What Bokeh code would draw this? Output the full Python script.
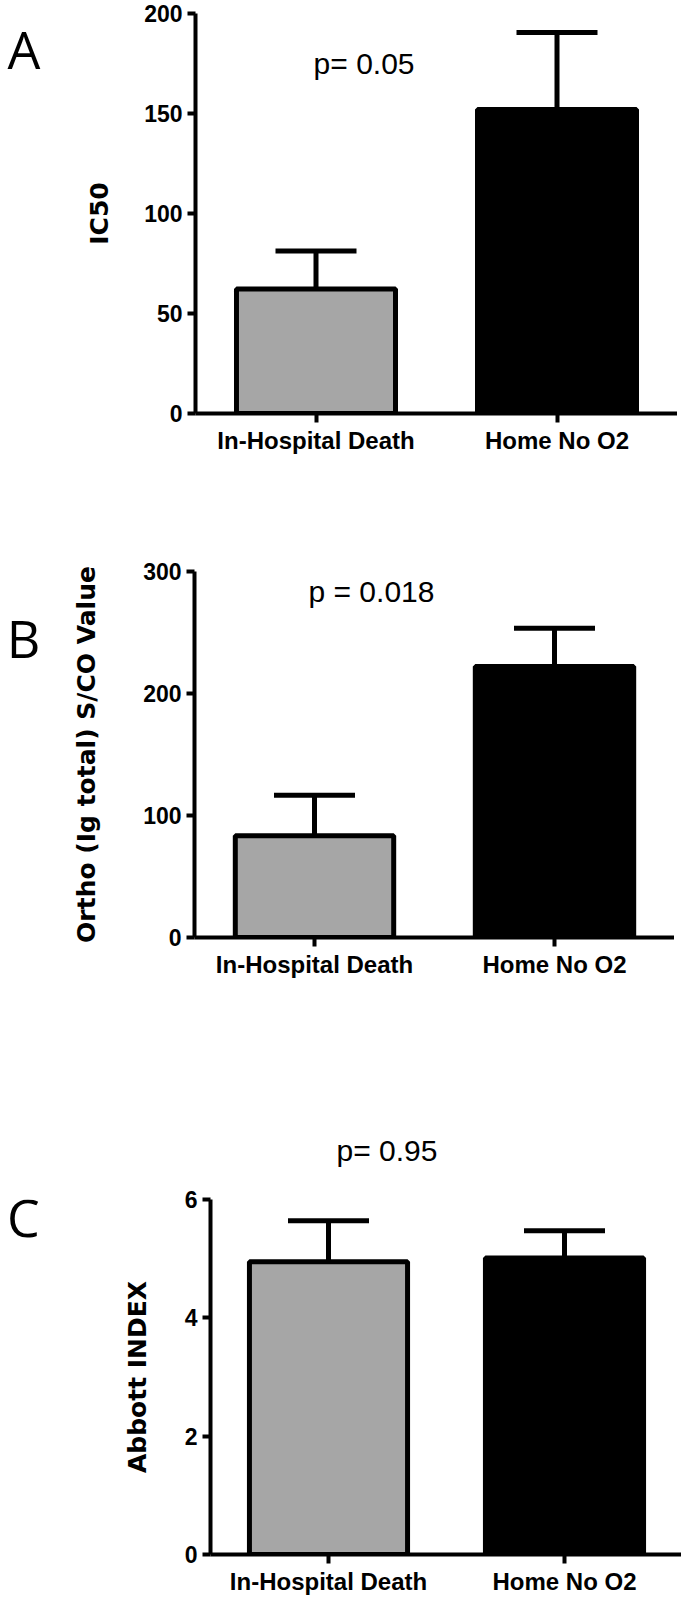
from bokeh.plotting import figure
from bokeh.models import Range1d, FactorRange, Whisker, TeeHead, ColumnDataSource, Label
from bokeh.layouts import column, row
from bokeh.embed import file_html
from bokeh.resources import INLINE

# ---- data ----
groups = ["In-Hospital Death", "Home No O2"]
bar_colors = ["#a6a6a6", "#000000"]

ic50_mean = [62.3, 152.0]
ic50_sem = [18.9, 38.5]
ic50_ticks = [0, 50, 100, 150, 200]

ortho_mean = [83.5, 222.2]
ortho_sem = [33.2, 31.3]
ortho_ticks = [0, 100, 200, 300]

abbott_mean = [4.95, 5.01]
abbott_sem = [0.69, 0.46]
abbott_ticks = [0, 2, 4, 6]

p_texts = ["p= 0.05", "p = 0.018", "p= 0.95"]
panel_letters = ["A", "B", "C"]
y_titles = ["IC50", "Ortho (Ig total) S/CO Value", "Abbott INDEX"]

TICK_FONT = "Liberation Sans"
P_FONT = "Liberation Sans"
SIDE_W = 63


def blank(width, height):
    f = figure(width=width, height=height, title=None,
               x_range=Range1d(0, width), y_range=Range1d(0, height),
               x_axis_location=None, y_axis_location=None,
               min_border=0, output_backend="svg", toolbar_location=None)
    f.xgrid.grid_line_color = None
    f.ygrid.grid_line_color = None
    f.outline_line_color = None
    return f


def side(letter, height, lx, ly):
    f = blank(SIDE_W, height)
    f.add_layout(Label(x=lx, y=ly, text=letter, text_font="Open Sans",
                       text_font_size="52px", text_color="black",
                       text_align="left", text_baseline="alphabetic"))
    return f


def panel(means, sems, ticks, ytitle, ptext, p_xy,
          fw, fh, bl, bt, bb, title_standoff, bar_w=0.66):
    src = ColumnDataSource(dict(
        base=groups,
        mean=means,
        upper=[m + s for m, s in zip(means, sems)],
        color=bar_colors,
    ))
    p = figure(x_range=FactorRange(*groups), y_range=Range1d(ticks[0], ticks[-1]),
               frame_width=fw, frame_height=fh,
               min_border_left=bl, min_border_right=0,
               min_border_top=bt, min_border_bottom=bb,
               output_backend="svg", toolbar_location=None)
    p.vbar(x="base", top="mean", width=bar_w, source=src,
           fill_color="color", line_color="black", line_width=5)
    w = Whisker(base="base", lower="mean", upper="upper", source=src,
                line_width=5, line_color="black",
                upper_head=TeeHead(size=81, line_width=5, line_color="black"),
                lower_head=None)
    p.add_layout(w)

    p.xgrid.grid_line_color = None
    p.ygrid.grid_line_color = None
    p.outline_line_color = None

    p.yaxis.ticker = ticks
    p.yaxis.minor_tick_line_color = None
    p.yaxis.axis_line_width = 4
    p.yaxis.major_tick_line_width = 4
    p.yaxis.major_tick_out = 8
    p.yaxis.major_tick_in = 0
    p.yaxis.major_label_standoff = 5
    p.yaxis.major_label_text_font = TICK_FONT
    p.yaxis.major_label_text_font_style = "bold"
    p.yaxis.major_label_text_font_size = "23px"
    p.yaxis.major_label_text_color = "black"
    p.yaxis.axis_label = ytitle
    p.yaxis.axis_label_text_font = "DejaVu Sans"
    p.yaxis.axis_label_text_font_style = "bold"
    p.yaxis.axis_label_text_font_size = "25px"
    p.yaxis.axis_label_text_color = "black"
    p.yaxis.axis_label_standoff = title_standoff

    p.xaxis.axis_line_width = 4
    p.xaxis.major_tick_line_width = 4
    p.xaxis.major_tick_out = 9
    p.xaxis.major_tick_in = 0
    p.xaxis.major_label_standoff = 4
    p.xaxis.axis_label_standoff = 0
    p.xaxis.major_label_text_font = TICK_FONT
    p.xaxis.major_label_text_font_style = "bold"
    p.xaxis.major_label_text_font_size = "24px"
    p.xaxis.major_label_text_color = "black"

    if ptext is not None:
        p.add_layout(Label(x=p_xy[0], y=p_xy[1], text=ptext,
                           text_font=P_FONT, text_font_size="30px",
                           text_color="black", text_baseline="alphabetic"))
    return p


# Panel A (row height 511)
pa = panel(ic50_mean, ic50_sem, ic50_ticks, y_titles[0], p_texts[0], (0.49, 174.8),
           fw=482, fh=400, bl=132, bt=13, bb=98, title_standoff=27)
sa = side(panel_letters[0], 511, 7, 466)

# Panel B (row height 579)
pb = panel(ortho_mean, ortho_sem, ortho_ticks, y_titles[1], p_texts[1], (0.475, 283.6),
           fw=480, fh=366, bl=131, bt=60, bb=153, title_standoff=39)
sb = side(panel_letters[1], 579, 6.3, 475)

# strip holding panel C's p-value (height 90)
strip = blank(682, 90)
strip.add_layout(Label(x=336, y=30, text=p_texts[2], text_font=P_FONT,
                       text_font_size="30px", text_color="black",
                       text_align="left", text_baseline="alphabetic"))

# Panel C (row height 419)
pc = panel(abbott_mean, abbott_sem, abbott_ticks, y_titles[2], None, None,
           fw=472, fh=355, bl=147, bt=19, bb=45, title_standoff=30, bar_w=0.67)
sc = side(panel_letters[2], 419, 6.4, 399)

layout = column(row(sa, pa, spacing=0), row(sb, pb, spacing=0), strip,
                row(sc, pc, spacing=0), spacing=0)
open("out.html", "w").write(file_html(layout, INLINE))
